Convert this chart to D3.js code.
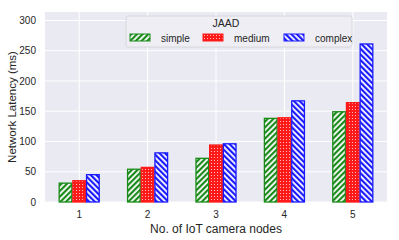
<!DOCTYPE html>
<html>
<head>
<meta charset="utf-8">
<script src="https://cdn.jsdelivr.net/npm/d3@7"></script>
<style>
  body { margin: 0; background: #fff; }
  svg { display: block; font-family: "Liberation Sans", Arial, sans-serif; }
</style>
</head>
<body>
<div id="chart"></div>
<script>
// --- chart data ---
const nodes = ["1", "2", "3", "4", "5"];
const seriesNames = ["simple", "medium", "complex"];
const simpleVals = [32, 55, 73, 139, 150];
const mediumVals = [36, 58, 95, 140, 165];
const complexVals = [46, 82, 97, 168, 262];
const yTicks = [0, 50, 100, 150, 200, 250, 300];

const COLORS = { simple: "#1a8a1a", medium: "#ff1a1a", complex: "#1a1aff" };
const seriesVals = { simple: simpleVals, medium: mediumVals, complex: complexVals };

const W = 399, H = 240;
const margin = { top: 12, right: 12, bottom: 38, left: 45 };
const width = W - margin.left - margin.right,
      height = H - margin.top - margin.bottom;

const svg = d3.select("#chart").append("svg")
  .attr("width", W).attr("height", H);

// hatch patterns
const defs = svg.append("defs");
function stripes(id, color, dir) {
  const p = defs.append("pattern").attr("id", id)
    .attr("patternUnits", "userSpaceOnUse")
    .attr("width", 4).attr("height", 4)
    .attr("patternTransform", `rotate(${dir})`);
  p.append("rect").attr("width", 4).attr("height", 4).attr("fill", "#fff");
  p.append("rect").attr("width", 2.2).attr("height", 4).attr("fill", color);
}
stripes("hatch-simple", COLORS.simple, 45);
stripes("hatch-complex", COLORS.complex, -45);
const dots = defs.append("pattern").attr("id", "hatch-medium")
  .attr("patternUnits", "userSpaceOnUse").attr("width", 3).attr("height", 3);
dots.append("rect").attr("width", 3).attr("height", 3).attr("fill", COLORS.medium);
dots.append("rect").attr("x", 1).attr("y", 1).attr("width", 1).attr("height", 1).attr("fill", "#fbb");

const g = svg.append("g").attr("transform", `translate(${margin.left},${margin.top})`);

g.append("rect").attr("width", width).attr("height", height).attr("fill", "#eaeaf2");

const x = d3.scaleBand().domain(nodes).range([0, width]).padding(0);
const x1 = d3.scaleBand().domain(seriesNames).range([x.bandwidth() * 0.2, x.bandwidth() * 0.8]);
const y = d3.scaleLinear().domain([0, 314]).range([height, 0]);

// grid
g.append("g").selectAll("line").data(yTicks).join("line")
  .attr("x1", 0).attr("x2", width)
  .attr("y1", d => y(d)).attr("y2", d => y(d))
  .attr("stroke", "#fff").attr("stroke-width", 1);
g.append("g").selectAll("line").data(nodes).join("line")
  .attr("x1", d => x(d) + x.bandwidth() / 2).attr("x2", d => x(d) + x.bandwidth() / 2)
  .attr("y1", 0).attr("y2", height)
  .attr("stroke", "#fff").attr("stroke-width", 1);

// axes
const yAxis = g.append("g").call(d3.axisLeft(y).tickValues(yTicks).tickSize(0).tickPadding(9));
const xAxis = g.append("g").attr("transform", `translate(0,${height})`)
  .call(d3.axisBottom(x).tickSize(0).tickPadding(9));
[yAxis, xAxis].forEach(a => {
  a.select(".domain").remove();
  a.selectAll("text").attr("font-size", 10).attr("fill", "#262626")
    .attr("font-family", "'Liberation Sans', Arial, sans-serif");
});

// bars
seriesNames.forEach(s => {
  g.append("g").selectAll("rect").data(seriesVals[s]).join("rect")
    .attr("x", (d, i) => x(nodes[i]) + x1(s) + 0.5)
    .attr("width", x1.bandwidth() - 1)
    .attr("y", d => y(d) + 0.5)
    .attr("height", d => height - y(d) - 0.5)
    .attr("fill", `url(#hatch-${s})`)
    .attr("stroke", COLORS[s]).attr("stroke-width", 1.3);
});

// axis labels
svg.append("text")
  .attr("x", margin.left + width / 2).attr("y", 233)
  .attr("text-anchor", "middle").attr("font-size", 12).attr("fill", "#262626")
  .text("No. of IoT camera nodes");
svg.append("text")
  .attr("transform", `translate(16,${margin.top + height / 2}) rotate(-90)`)
  .attr("text-anchor", "middle").attr("font-size", 11.5).attr("fill", "#262626")
  .text("Network Latency (ms)");

// legend
const lg = svg.append("g").attr("transform", "translate(126,16)");
lg.append("rect").attr("width", 226).attr("height", 31).attr("rx", 2)
  .attr("fill", "#eeeef4").attr("stroke", "#d0d0d6").attr("stroke-width", 0.8);
lg.append("text").attr("x", 100).attr("y", 11).attr("text-anchor", "middle")
  .attr("font-size", 10.5).attr("fill", "#262626").text("JAAD");
const legX = [4, 77, 158];
seriesNames.forEach((s, i) => {
  const e = lg.append("g").attr("transform", `translate(${legX[i]},18)`);
  e.append("rect").attr("width", 20).attr("height", 7)
    .attr("fill", `url(#hatch-${s})`).attr("stroke", COLORS[s]).attr("stroke-width", 1);
  e.append("text").attr("x", 31).attr("y", 7.5).attr("font-size", 10).attr("fill", "#262626").text(s);
});
</script>
</body>
</html>
